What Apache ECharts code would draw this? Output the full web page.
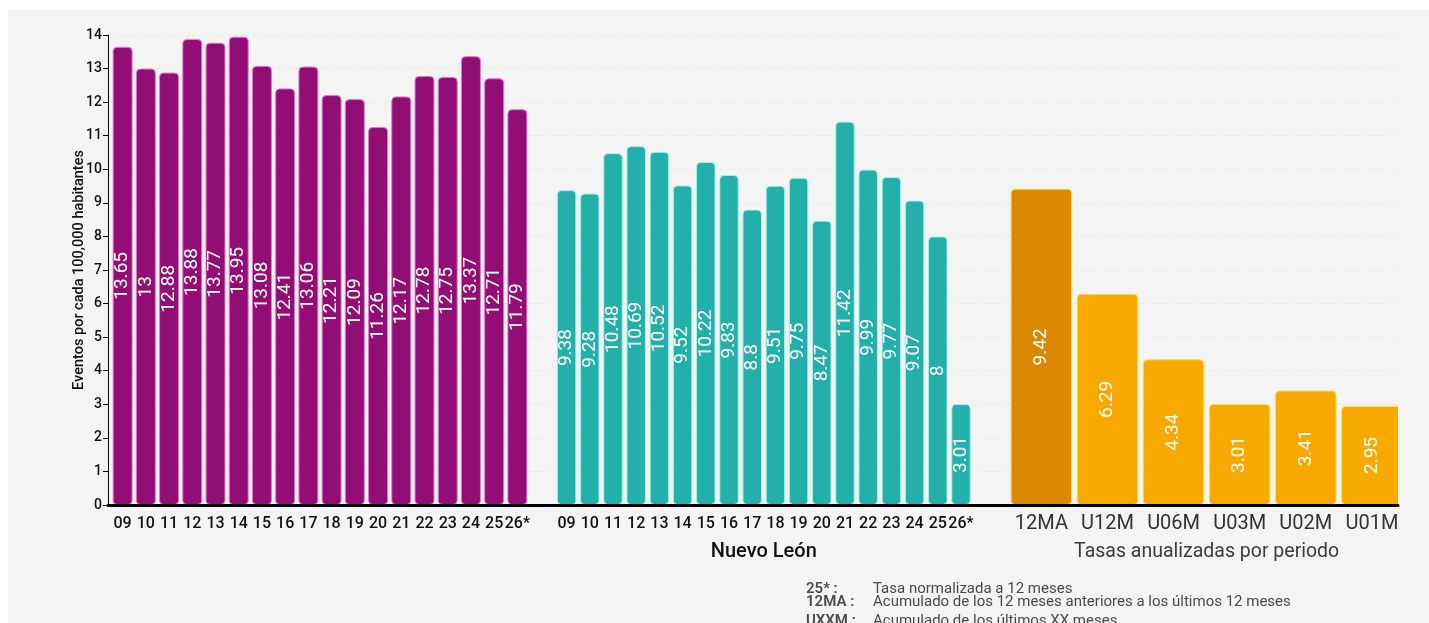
<!DOCTYPE html>
<html>
<head>
<meta charset="utf-8">
<script src="https://cdn.jsdelivr.net/npm/echarts@6/dist/echarts.min.js"></script>
<style>
html,body{margin:0;padding:0;background:#ffffff;overflow:hidden;}
#wrap{position:relative;width:1429px;height:623px;}
#panel{position:absolute;left:8px;top:10px;right:0;bottom:0;background:#f4f4f4;}
#c{position:absolute;left:0;top:0;width:1429px;height:623px;}
</style>
</head>
<body>
<div id="wrap"><div id="panel"></div><div id="c"></div></div>
<script>
// ---- data ----
const yearCats = ['09','10','11','12','13','14','15','16','17','18','19','20','21','22','23','24','25','26*'];
const nationalValues = [13.65, 13, 12.88, 13.88, 13.77, 13.95, 13.08, 12.41, 13.06, 12.21, 12.09, 11.26, 12.17, 12.78, 12.75, 13.37, 12.71, 11.79];
const nuevoLeonValues = [9.38, 9.28, 10.48, 10.69, 10.52, 9.52, 10.22, 9.83, 8.8, 9.51, 9.75, 8.47, 11.42, 9.99, 9.77, 9.07, 8, 3.01];
const periodCats = ['12MA','U12M','U06M','U03M','U02M','U01M'];
const periodValues = [9.42, 6.29, 4.34, 3.01, 3.41, 2.95];
const yMin = 0, yMax = 14, yStep = 1;
const yAxisTitle = 'Eventos por cada 100,000 habitantes';
const groupTitleNL = 'Nuevo León';
const groupTitlePeriods = 'Tasas anualizadas por periodo';
const noteKeys = ['25* :', '12MA :', 'UXXM :'];
const noteTexts = ['Tasa normalizada a 12 meses', 'Acumulado de los 12 meses anteriores a los últimos 12 meses', 'Acumulado de los últimos XX meses'];

// ---- styles ----
const FONT = 'Roboto, "Noto Sans", sans-serif';
const C_PURPLE = '#920e74', B_PURPLE = '#e27ad2';
const C_TEAL = '#24b0aa', B_TEAL = '#a8f2ec';
const C_ORANGE = '#f7a900', C_ORANGE_D = '#da8900', B_ORANGE = '#ffdc55';
const TOP = 35, BOTTOM = 118;
const NOTE_TOPS = [582, 595, 614];

function barLabel(){
  return {show:true, position:'inside', rotate:90, color:'#ffffff', fontSize:19, fontFamily:FONT, fontWeight:400};
}
function hiddenY(i){
  return {gridIndex:i, type:'value', min:yMin, max:yMax, interval:yStep, show:false, splitLine:{show:false}};
}
function catX(i, data, lblStyle, name, nameStyle){
  return {gridIndex:i, type:'category', data:data,
    axisLine:{show:false}, axisTick:{show:false}, splitLine:{show:false},
    axisLabel:Object.assign({interval:0, margin:11, fontFamily:FONT}, lblStyle),
    name:name||'', nameLocation:'middle', nameGap:37, nameMoveOverlap:false,
    nameTextStyle:Object.assign({fontFamily:FONT}, nameStyle||{})};
}

const noteGraphics = [];
noteKeys.forEach((k, i) => {
  noteGraphics.push({type:'text', left:806, top:NOTE_TOPS[i], z:60,
    style:{text:k, font:'600 15px ' + FONT, fill:'#4a4a4a'}});
  noteGraphics.push({type:'text', left:873, top:NOTE_TOPS[i], z:60,
    style:{text:noteTexts[i], font:'400 15px ' + FONT, fill:'#4a4a4a'}});
});

const chart = echarts.init(document.getElementById('c'), null, {renderer:'canvas'});
chart.setOption({
  backgroundColor:'transparent',
  animation:false,
  grid:[
    {left:108, right:31, top:TOP, bottom:BOTTOM},
    {left:111, width:418, top:TOP, bottom:BOTTOM},
    {left:555, width:417.6, top:TOP, bottom:BOTTOM},
    {left:1008.3, width:396.7, top:TOP, bottom:BOTTOM}
  ],
  xAxis:[
    {gridIndex:0, type:'value', min:0, max:1, zlevel:1, z:10, position:'bottom',
      axisLine:{show:true, onZero:false, lineStyle:{color:'#000', width:3}},
      axisTick:{show:false}, axisLabel:{show:false}, splitLine:{show:false}},
    catX(1, yearCats, {fontSize:16, color:'#111', fontWeight:500}),
    catX(2, yearCats, {fontSize:16, color:'#111', fontWeight:500}, groupTitleNL, {fontSize:20, color:'#111', fontWeight:500}),
    catX(3, periodCats, {fontSize:20, color:'#333', fontWeight:400, margin:9}, groupTitlePeriods, {fontSize:19.5, color:'#3c3c3c', fontWeight:400})
  ],
  yAxis:[
    {gridIndex:0, type:'value', min:yMin, max:yMax, interval:yStep,
      axisLine:{show:true, lineStyle:{color:'#000', width:1}},
      axisTick:{show:true, length:5, lineStyle:{color:'#000'}},
      axisLabel:{fontSize:14, color:'#111', fontWeight:500, fontFamily:FONT, margin:6},
      splitLine:{show:true, lineStyle:{color:'#ebebeb', type:'dashed', width:1}},
      name:yAxisTitle, nameLocation:'middle', nameGap:21, nameMoveOverlap:false,
      nameTextStyle:{fontSize:14.5, color:'#111', fontWeight:500, fontFamily:FONT}},
    hiddenY(1), hiddenY(2), hiddenY(3)
  ],
  series:[
    {type:'bar', xAxisIndex:1, yAxisIndex:1, data:nationalValues, barCategoryGap:'14%',
      itemStyle:{color:C_PURPLE, borderColor:B_PURPLE, borderWidth:1, borderRadius:4},
      label:barLabel()},
    {type:'bar', xAxisIndex:2, yAxisIndex:2, data:nuevoLeonValues, barCategoryGap:'16%',
      itemStyle:{color:C_TEAL, borderColor:B_TEAL, borderWidth:1, borderRadius:4},
      label:barLabel()},
    {type:'bar', xAxisIndex:3, yAxisIndex:3, barCategoryGap:'7%',
      data:periodValues.map((v,i)=> i===0 ? {value:v, itemStyle:{color:C_ORANGE_D}} : v),
      itemStyle:{color:C_ORANGE, borderColor:B_ORANGE, borderWidth:1, borderRadius:4},
      label:barLabel()}
  ],
  graphic:[
    {type:'rect', left:1398, top:20, z:50, shape:{width:31, height:490}, style:{fill:'#f4f4f4'}}
  ].concat(noteGraphics)
});
</script>
</body>
</html>
